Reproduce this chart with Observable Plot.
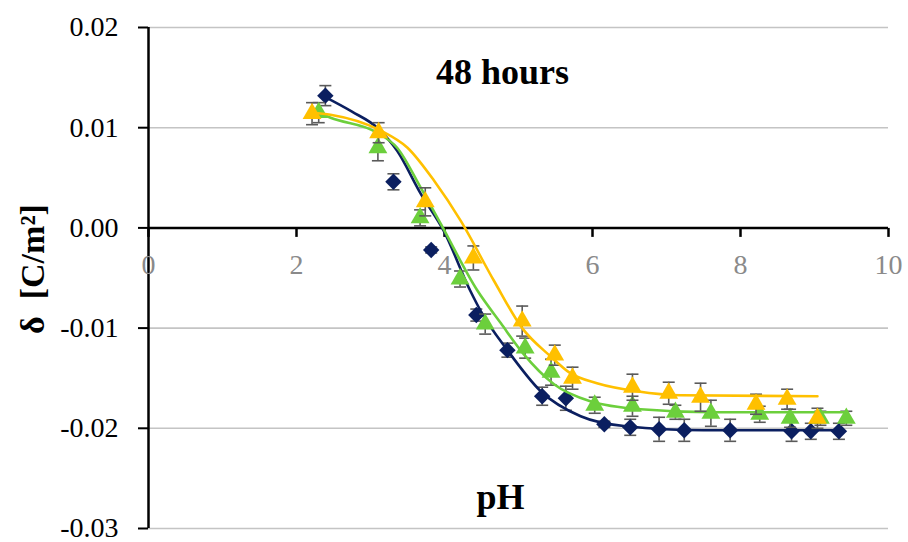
<!DOCTYPE html>
<html>
<head>
<meta charset="utf-8">
<script src="https://cdn.jsdelivr.net/npm/d3@7"></script>
<script src="https://cdn.jsdelivr.net/npm/@observablehq/plot@0.6"></script>
<style>
  html, body { margin: 0; padding: 0; background: white; }
  svg { display: block; }
</style>
</head>
<body>
<div id="chart"></div>
<script>
// ---- data ----
const xTicks = [0, 2, 4, 6, 8, 10];
const yTicks = [-0.03, -0.02, -0.01, 0, 0.01, 0.02];

const navyPH  = [2.39, 3.31, 3.82, 4.43, 4.85, 5.32, 5.64, 6.16, 6.51, 6.90, 7.24, 7.86, 8.69, 8.95, 9.33];
const navyD   = [0.0132, 0.0046, -0.0022, -0.0087, -0.0122, -0.0168, -0.0170, -0.0196, -0.0199, -0.0201, -0.0202, -0.0202, -0.0203, -0.0203, -0.0203];
const navyErr = [0.0010, 0.0008, 0.0003, 0.0006, 0.0007, 0.0009, 0.0012, 0.0003, 0.0008, 0.0012, 0.0011, 0.0011, 0.0010, 0.0008, 0.0008];

const greenPH  = [2.30, 3.10, 3.67, 4.21, 4.55, 5.09, 5.44, 6.03, 6.54, 7.12, 7.60, 8.26, 8.67, 9.08, 9.43];
const greenD   = [0.0115, 0.0080, 0.0010, -0.0051, -0.0096, -0.0120, -0.0144, -0.0177, -0.0178, -0.0184, -0.0185, -0.0186, -0.0190, -0.0190, -0.0190];
const greenErr = [0.0010, 0.0013, 0.0008, 0.0008, 0.0010, 0.0010, 0.0013, 0.0008, 0.0010, 0.0007, 0.0013, 0.0008, 0.0009, 0.0007, 0.0007];

const yellowPH  = [2.21, 3.11, 3.74, 4.39, 5.05, 5.49, 5.73, 6.54, 7.03, 7.46, 8.21, 8.63, 9.04];
const yellowD   = [0.0114, 0.0095, 0.0026, -0.0030, -0.0093, -0.0127, -0.0150, -0.0159, -0.0165, -0.0169, -0.0176, -0.0171, -0.0190];
const yellowErr = [0.0011, 0.0010, 0.0014, 0.0012, 0.0015, 0.0010, 0.0011, 0.0013, 0.0011, 0.0014, 0.0010, 0.0010, 0.0010];

// fitted curves, points
const navyFitPH = [2.35, 2.75, 3.09, 3.36, 3.68, 3.99, 4.35, 4.49, 4.85, 5.30, 5.84, 6.45, 7.50, 9.33];
const navyFitD  = [0.0132, 0.0116, 0.0100, 0.0077, 0.0034, -0.0003, -0.0063, -0.0083, -0.0122, -0.0163, -0.0188, -0.0198, -0.0202, -0.0202];

const greenFitPH = [2.30, 2.46, 3.09, 3.36, 3.68, 3.95, 4.44, 4.76, 5.07, 5.48, 5.97, 6.65, 7.64, 9.44];
const greenFitD  = [0.0115, 0.0110, 0.0095, 0.0080, 0.0040, 0.0004, -0.0062, -0.0095, -0.0126, -0.0156, -0.0173, -0.0181, -0.0184, -0.0184];

const yellowFitPH = [2.21, 2.46, 3.14, 3.50, 3.86, 4.22, 4.67, 5.05, 5.43, 5.70, 6.06, 6.60, 7.19, 9.04];
const yellowFitD  = [0.0115, 0.0113, 0.0097, 0.0080, 0.0047, 0.0007, -0.0053, -0.0100, -0.0128, -0.0145, -0.0155, -0.0163, -0.0167, -0.0168];

const title = "48 hours";
const xLabel = "pH";
const yLabel = "δ  [C/m²]";

// ---- build tables ----
const pts = (ph, d, e) => ph.map((x, i) => ({x, y: d[i], e: e ? e[i] : 0}));
const navy = pts(navyPH, navyD, navyErr);
const green = pts(greenPH, greenD, greenErr);
const yellow = pts(yellowPH, yellowD, yellowErr);
const navyFit = pts(navyFitPH, navyFitD);
const greenFit = pts(greenFitPH, greenFitD);
const yellowFit = pts(yellowFitPH, yellowFitD);

const C_NAVY = "#0b1f60", C_GREEN = "#6ccf3c", C_YELLOW = "#ffc000", C_ERR = "#5a5a5a";

const capSym = { draw(ctx) { ctx.moveTo(-6, 0); ctx.lineTo(6, 0); } };
const tickDown = { draw(ctx) { ctx.moveTo(0, 0); ctx.lineTo(0, 9); } };

function series(data, fit, color, symbol, r) {
  return [
    Plot.ruleX(data, {x: "x", y1: d => d.y - d.e, y2: d => d.y + d.e, stroke: C_ERR, strokeWidth: 1.6}),
    Plot.dot(data, {x: "x", y: d => d.y - d.e, symbol: capSym, fill: "none", stroke: C_ERR, strokeWidth: 1.6}),
    Plot.dot(data, {x: "x", y: d => d.y + d.e, symbol: capSym, fill: "none", stroke: C_ERR, strokeWidth: 1.6}),
    Plot.line(fit, {x: "x", y: "y", stroke: color, strokeWidth: 2.6, curve: "monotone-x"}),
    Plot.dot(data, {x: "x", y: "y", symbol, r, fill: color, stroke: "none"})
  ];
}

const chart = Plot.plot({
  width: 908,
  height: 542,
  marginLeft: 148,
  marginRight: 20,
  marginTop: 27,
  marginBottom: 14,
  style: {fontFamily: "'Liberation Serif', 'Times New Roman', serif", background: "white", color: "black"},
  x: {domain: [0, 10], axis: null},
  y: {domain: [-0.03, 0.02], axis: null},
  marks: [
    Plot.ruleY(yTicks.filter(d => d !== 0), {y: d => d, stroke: "#c4c4c4", strokeWidth: 1.6}),
    Plot.axisY(yTicks, {tickSize: 10, tickPadding: 20, tickFormat: d => d.toFixed(2), fontSize: 28, stroke: "black", strokeWidth: 2, fill: "black", label: null}),
    Plot.ruleX([0], {stroke: "black", strokeWidth: 2.5}),
    Plot.ruleY([0], {stroke: "black", strokeWidth: 2.5}),
    Plot.dot(xTicks, {x: d => d, y: 0, symbol: tickDown, fill: "none", stroke: "black", strokeWidth: 2.5}),
    Plot.text(xTicks, {x: d => d, y: 0, text: d => String(d), dy: 37, fill: "#8a8a8a", fontSize: 28}),
    ...series(navy, navyFit, C_NAVY, "diamond2", 7.4),
    ...series(green, greenFit, C_GREEN, "triangle", 7),
    ...series(yellow, yellowFit, C_YELLOW, "triangle", 7),
    Plot.text([title], {frameAnchor: "top", lineAnchor: "middle", dx: -16, dy: 45, fontSize: 36, fontWeight: "bold", fill: "black"}),
    Plot.text([xLabel], {frameAnchor: "bottom", lineAnchor: "middle", dx: -18, dy: -31, fontSize: 36, fontWeight: "bold", fill: "black"}),
    Plot.text([yLabel], {frameAnchor: "left", textAnchor: "middle", lineAnchor: "middle", dx: -115, dy: -9, rotate: -90, fontSize: 34, fontWeight: "bold", fill: "black"})
  ]
});
document.getElementById("chart").appendChild(chart);
</script>
</body>
</html>
